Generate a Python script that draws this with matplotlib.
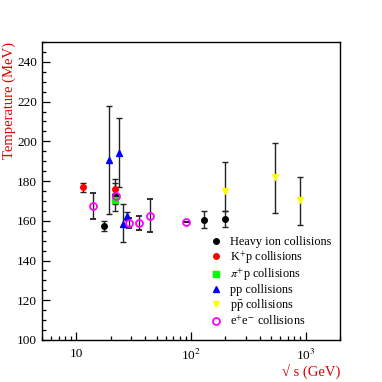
import matplotlib
matplotlib.use("Agg")
import matplotlib.pyplot as plt
from matplotlib.lines import Line2D
from matplotlib.ticker import FixedLocator, LogLocator, NullFormatter, MultipleLocator

plt.rcParams['font.family'] = ['Liberation Serif', 'DejaVu Serif']
plt.rcParams['mathtext.fontset'] = 'stix'

# Data (sqrt(s) in GeV, temperature in MeV)
heavy_x = [17.3, 21.5, 130, 200]
heavy_T = [157.5, 173.0, 160.6, 160.9]
heavy_err = [2.4, 8.0, 4.3, 4.0]

kp_x = [11.5, 21.6]
kp_T = [176.8, 176.0]
kp_err = [2.3, 3.0]

pip_x = [21.6]
pip_T = [170.4]
pip_err = [2.0]

pp_x = [19.4, 23.6, 25.6, 27.4]
pp_T = [190.5, 194.2, 158.6, 162.3]
pp_err_lo = [27.2, 17.2, 9.3, 2.0]
pp_err_hi = [27.5, 17.4, 9.7, 2.0]

ppbar_x = [200, 546, 900]
ppbar_T = [175.1, 182.1, 170.3]
ppbar_err_lo = [10.3, 18.0, 12.2]
ppbar_err_hi = [14.6, 17.2, 11.5]

ee_x = [14.0, 22.0, 29.0, 35.0, 44.0, 91.0]
ee_T = [167.3, 172.5, 158.9, 158.9, 162.6, 159.2]
ee_err = [6.5, 0.0, 2.6, 3.3, 8.3, 0.0]

labels = ["Heavy ion collisions", r"K$^{+}$p collisions", r"$\pi^{+}$p collisions",
          "pp collisions", r"p$\bar{\mathrm{p}}$ collisions", r"e$^{+}$e$^{-}$ collisions"]

fig = plt.figure(figsize=(3.82, 3.82), dpi=100)
ax = fig.add_axes([42/382, 42/382, 298/382, 298/382])

ekw = dict(ecolor='#222222', elinewidth=1.0, capsize=2.2, capthick=1.0, linestyle='none')

styles = [
    dict(marker='o', ms=4, color='black'),
    dict(marker='o', ms=4, color='#ff0000'),
    dict(marker='s', ms=4, color='#00ff00'),
    dict(marker='^', ms=4.5, color='#0000ff'),
    dict(marker='v', ms=4.5, color='#ffff00'),
    dict(marker='o', ms=5, mfc='none', mec='#ff00ff', mew=1.3, color='#ff00ff'),
]

ax.errorbar(heavy_x, heavy_T, yerr=heavy_err, **styles[0], **ekw)
ax.errorbar(kp_x, kp_T, yerr=kp_err, **styles[1], **ekw)
ax.errorbar(pip_x, pip_T, yerr=pip_err, **styles[2], **ekw)
ax.errorbar(pp_x, pp_T, yerr=[pp_err_lo, pp_err_hi], **styles[3], **ekw)
ax.errorbar(ppbar_x, ppbar_T, yerr=[ppbar_err_lo, ppbar_err_hi], **styles[4], **ekw)
ax.errorbar(ee_x, ee_T, yerr=ee_err, **styles[5], **ekw)

ax.set_xscale('log')
ax.set_xlim(5, 2000)
ax.set_ylim(100, 250)

ax.xaxis.set_major_locator(FixedLocator([10, 100, 1000]))
ax.set_xticklabels(['10', r'10$^{2}$', r'10$^{3}$'])
ax.xaxis.set_minor_locator(LogLocator(base=10, subs=range(2, 10)))
ax.xaxis.set_minor_formatter(NullFormatter())
ax.yaxis.set_major_locator(MultipleLocator(20))
ax.yaxis.set_minor_locator(MultipleLocator(5))

ax.tick_params(which='both', direction='in', top=False, right=False, labelsize=9.5, width=0.9)
ax.tick_params(which='major', length=5.5)
ax.tick_params(which='minor', length=3)
ax.tick_params(axis='x', pad=6)
for sp in ax.spines.values():
    sp.set_linewidth(1.0)

ax.set_ylabel('Temperature (MeV)', color='#dd0000', fontsize=10.5, loc='top', labelpad=1)
ax.set_xlabel('√ s (GeV)', color='#dd0000', fontsize=10.5, loc='right', labelpad=0)

handles = [Line2D([], [], linestyle='none', **s) for s in styles]
leg = ax.legend(handles, labels, loc='upper left',
                bbox_to_anchor=(0.55, 0.365), frameon=False, fontsize=8.8,
                handlelength=0.8, handletextpad=0.8, labelspacing=0.08, borderaxespad=0)

fig.savefig('out.png', dpi=100)
